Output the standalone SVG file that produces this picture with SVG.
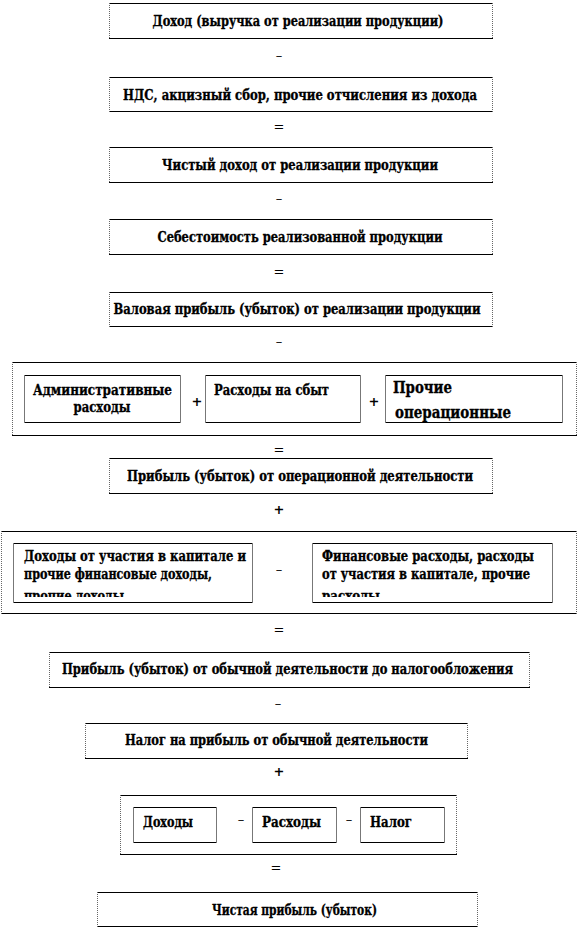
<svg xmlns="http://www.w3.org/2000/svg" width="578" height="930" viewBox="0 0 578 930" font-family="DejaVu Serif, serif">
<style>
.bg{fill:#fff;stroke:none}
.hz{stroke:#000;stroke-width:1;fill:none}
.vt{stroke:#666;stroke-width:1;stroke-dasharray:1 1;fill:none}
.iv{stroke:#777;stroke-width:1;fill:none}
.t{font-family:"DejaVu Serif Condensed","DejaVu Serif",serif;font-weight:bold;font-size:14px;fill:#000;stroke:#000;stroke-width:0.3px}
.c{text-anchor:middle}
.big{font-size:16px}
.op{font-family:"DejaVu Serif","Liberation Serif",serif;font-size:13px;fill:#000;text-anchor:middle}
.opb{font-weight:bold}
</style>
<defs>
<clipPath id="clipL"><rect x="13" y="543" width="240" height="54"/></clipPath>
<clipPath id="clipR"><rect x="312" y="543" width="241" height="54"/></clipPath>
</defs>
<rect width="578" height="930" fill="#fff"/>

<g id="n1">
<rect class="bg" x="109" y="3" width="384" height="36"/>
<path class="hz" d="M109 3.5H493M109 38.5H493"/>
<path class="vt" d="M109.5 3V39M492.5 3V39"/>
<text class="t c" x="298" y="26" textLength="291" lengthAdjust="spacingAndGlyphs">Доход (выручка от реализации продукции)</text>
</g>

<g id="n2">
<rect class="bg" x="109" y="77" width="384" height="35"/>
<path class="hz" d="M109 77.5H493M109 111.5H493"/>
<path class="vt" d="M109.5 77V112M492.5 77V112"/>
<text class="t c" x="300" y="100" textLength="354" lengthAdjust="spacingAndGlyphs">НДС, акцизный сбор, прочие отчисления из дохода</text>
</g>

<g id="n3">
<rect class="bg" x="109" y="147" width="384" height="36"/>
<path class="hz" d="M109 147.5H493M109 182.5H493"/>
<path class="vt" d="M109.5 147V183M492.5 147V183"/>
<text class="t c" x="300" y="170" textLength="276" lengthAdjust="spacingAndGlyphs">Чистый доход от реализации продукции</text>
</g>

<g id="n4">
<rect class="bg" x="109" y="219" width="384" height="36"/>
<path class="hz" d="M109 219.5H493M109 254.5H493"/>
<path class="vt" d="M109.5 219V255M492.5 219V255"/>
<text class="t c" x="300" y="242" textLength="285" lengthAdjust="spacingAndGlyphs">Себестоимость реализованной продукции</text>
</g>

<g id="n5">
<rect class="bg" x="109" y="292" width="384" height="35"/>
<path class="hz" d="M109 292.5H493M109 326.5H493"/>
<path class="vt" d="M109.5 292V327M492.5 292V327"/>
<text class="t c" x="297" y="314" textLength="367" lengthAdjust="spacingAndGlyphs">Валовая прибыль (убыток) от реализации продукции</text>
</g>

<g id="n6">
<rect class="bg" x="12" y="362" width="565" height="74"/>
<path class="hz" d="M12 362.5H577M12 435.5H577"/>
<path class="vt" d="M12.5 362V436M576.5 362V436"/>
</g>

<g id="n6a">
<rect class="bg" x="24" y="375" width="157" height="48"/>
<path class="hz" d="M24 375.5H181M24 422.5H181"/>
<path class="iv" d="M24.5 375V423M180.5 375V423"/>
<text class="t c" x="102.5" y="395" textLength="139" lengthAdjust="spacingAndGlyphs">Административные</text>
<text class="t c" x="102" y="412" textLength="57" lengthAdjust="spacingAndGlyphs">расходы</text>
</g>

<g id="n6b">
<rect class="bg" x="205" y="375" width="156" height="48"/>
<path class="hz" d="M205 375.5H361M205 422.5H361"/>
<path class="iv" d="M205.5 375V423M360.5 375V423"/>
<text class="t" x="214" y="395" textLength="115" lengthAdjust="spacingAndGlyphs">Расходы на сбыт</text>
</g>

<g id="n6c">
<rect class="bg" x="385" y="375" width="178" height="48"/>
<path class="hz" d="M385 375.5H563M385 422.5H563"/>
<path class="iv" d="M385.5 375V423M562.5 375V423"/>
<text class="t big" x="393" y="393" textLength="59" lengthAdjust="spacingAndGlyphs">Прочие</text>
<text class="t big" x="395" y="418" textLength="116" lengthAdjust="spacingAndGlyphs">операционные</text>
</g>

<g id="n7">
<rect class="bg" x="109" y="458" width="384" height="36"/>
<path class="hz" d="M109 458.5H493M109 493.5H493"/>
<path class="vt" d="M109.5 458V494M492.5 458V494"/>
<text class="t c" x="300" y="481" textLength="346" lengthAdjust="spacingAndGlyphs">Прибыль (убыток)  от операционной деятельности</text>
</g>

<g id="n8">
<rect class="bg" x="1" y="531" width="576" height="83"/>
<path class="hz" d="M1 531.5H577M1 613.5H577"/>
<path class="vt" d="M1.5 531V614M576.5 531V614"/>
</g>

<g id="n8a">
<rect class="bg" x="13" y="543" width="240" height="60"/>
<path class="hz" d="M13 543.5H253M13 602.5H253"/>
<path class="iv" d="M13.5 543V603M252.5 543V603"/>
<text class="t" x="24" y="561" textLength="222" lengthAdjust="spacingAndGlyphs">Доходы  от участия в капитале и</text>
<text class="t" x="24" y="579" textLength="188" lengthAdjust="spacingAndGlyphs">прочие финансовые доходы,</text>
<text class="t" x="24" y="601" textLength="100" lengthAdjust="spacingAndGlyphs" clip-path="url(#clipL)">прочие доходы</text>
</g>

<g id="n8b">
<rect class="bg" x="312" y="543" width="241" height="60"/>
<path class="hz" d="M312 543.5H553M312 602.5H553"/>
<path class="iv" d="M312.5 543V603M552.5 543V603"/>
<text class="t" x="322" y="561" textLength="212" lengthAdjust="spacingAndGlyphs">Финансовые расходы, расходы</text>
<text class="t" x="322" y="579" textLength="208" lengthAdjust="spacingAndGlyphs">от участия в капитале, прочие</text>
<text class="t" x="322" y="601" textLength="58" lengthAdjust="spacingAndGlyphs" clip-path="url(#clipR)">расходы</text>
</g>

<g id="n9">
<rect class="bg" x="49" y="652" width="481" height="36"/>
<path class="hz" d="M49 652.5H530M49 687.5H530"/>
<path class="vt" d="M49.5 652V688M529.5 652V688"/>
<text class="t c" x="287.5" y="674" textLength="451" lengthAdjust="spacingAndGlyphs">Прибыль (убыток)  от обычной деятельности до налогообложения</text>
</g>

<g id="n10">
<rect class="bg" x="85" y="723" width="383" height="36"/>
<path class="hz" d="M85 723.5H468M85 758.5H468"/>
<path class="vt" d="M85.5 723V759M467.5 723V759"/>
<text class="t c" x="276.5" y="745" textLength="303" lengthAdjust="spacingAndGlyphs">Налог на прибыль от обычной деятельности</text>
</g>

<g id="n11">
<rect class="bg" x="120" y="795" width="337" height="60"/>
<path class="hz" d="M120 795.5H457M120 854.5H457"/>
<path class="vt" d="M120.5 795V855M456.5 795V855"/>
</g>

<g id="n11a">
<rect class="bg" x="133" y="807" width="84" height="36"/>
<path class="hz" d="M133 807.5H217M133 842.5H217"/>
<path class="iv" d="M133.5 807V843M216.5 807V843"/>
<text class="t" x="143" y="827" textLength="50" lengthAdjust="spacingAndGlyphs">Доходы</text>
</g>

<g id="n11b">
<rect class="bg" x="252" y="807" width="85" height="36"/>
<path class="hz" d="M252 807.5H337M252 842.5H337"/>
<path class="iv" d="M252.5 807V843M336.5 807V843"/>
<text class="t" x="262" y="827" textLength="59" lengthAdjust="spacingAndGlyphs">Расходы</text>
</g>

<g id="n11c">
<rect class="bg" x="360" y="807" width="85" height="36"/>
<path class="hz" d="M360 807.5H445M360 842.5H445"/>
<path class="iv" d="M360.5 807V843M444.5 807V843"/>
<text class="t" x="370" y="827" textLength="42" lengthAdjust="spacingAndGlyphs">Налог</text>
</g>

<g id="n12">
<rect class="bg" x="97" y="892" width="381" height="35"/>
<path class="hz" d="M97 892.5H478M97 926.5H478"/>
<path class="vt" d="M97.5 892V927M477.5 892V927"/>
<text class="t c" x="294.5" y="915" textLength="165" lengthAdjust="spacingAndGlyphs">Чистая прибыль (убыток)</text>
</g>

<g id="connectors">
<text class="op" x="279" y="60">–</text>
<text class="op" x="279" y="131">=</text>
<text class="op" x="279" y="203">–</text>
<text class="op" x="279" y="276">=</text>
<text class="op" x="279" y="346">–</text>
<text class="op opb" x="197" y="406">+</text>
<text class="op opb" x="374" y="406">+</text>
<text class="op" x="279" y="454">=</text>
<text class="op opb" x="279" y="514">+</text>
<text class="op" x="279" y="574">–</text>
<text class="op" x="279" y="634">=</text>
<text class="op" x="278" y="708">–</text>
<text class="op opb" x="279" y="776">+</text>
<text class="op" x="241" y="824">–</text>
<text class="op" x="349" y="824">–</text>
<text class="op" x="276" y="872">=</text>
</g>
</svg>
